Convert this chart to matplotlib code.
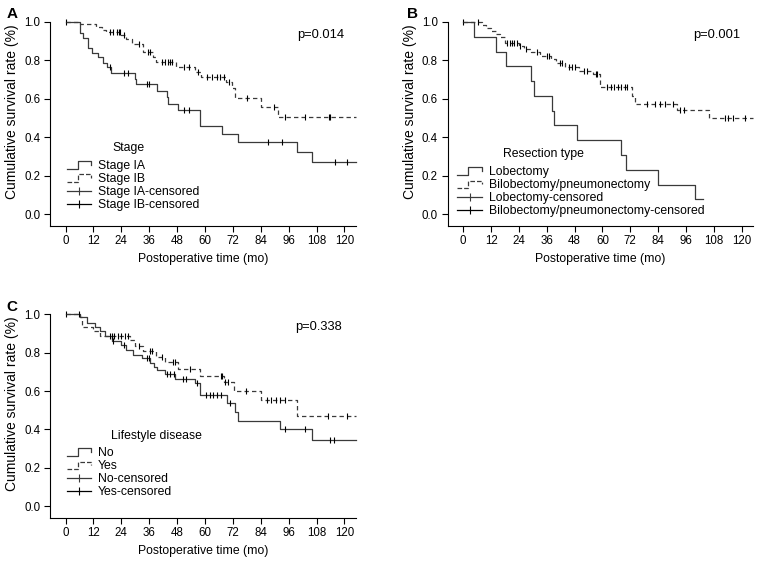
import numpy as np
import matplotlib
matplotlib.use("Agg")
import matplotlib.pyplot as plt
from matplotlib.lines import Line2D
from matplotlib.legend_handler import HandlerBase

plt.rcParams['font.family'] = ['Liberation Sans', 'DejaVu Sans']

# ---- panel A : stage ----
ia_t = [0, 6, 7.5, 9.5, 11.5, 14, 16, 18, 19.5, 30, 30.5, 39.5, 43.5, 44, 48.5, 58, 67.5, 74, 99.5, 106]
ia_s = [1.0, 0.945, 0.915, 0.867, 0.84, 0.816, 0.789, 0.768, 0.737, 0.704, 0.676, 0.643, 0.608,
        0.572, 0.542, 0.459, 0.416, 0.374, 0.322, 0.269]
ia_c = [0, 19, 25, 27, 35, 36, 51, 53, 87, 93, 116, 121]

ib_t = [0, 6, 13, 15.5, 17.5, 24, 26, 28.5, 33.5, 37.5, 39, 47.5, 55.5, 58.5, 69, 71.5, 73, 84, 91.5]
ib_s = [1.0, 0.99, 0.976, 0.958, 0.946, 0.932, 0.91, 0.884, 0.846, 0.816, 0.794, 0.768, 0.742,
        0.715, 0.69, 0.655, 0.603, 0.556, 0.508]
ib_c = [19, 20.5, 22, 23, 23.5, 25, 31.5, 35.5, 36.5, 41.5, 43, 44, 45, 46, 51, 53, 57, 61, 63,
        65, 66.5, 68, 70.5, 78, 89.5, 94.5, 103, 113.3, 114]

# ---- panel B : resection type ----
lob_t = [0, 4.6, 13.9, 18.6, 29.2, 30.7, 38.3, 39.3, 49, 68, 70, 84, 100]
lob_s = [1.0, 0.923, 0.846, 0.769, 0.692, 0.615, 0.538, 0.462, 0.385, 0.308, 0.231, 0.154, 0.077]
lob_c = [0]

bil_t = [0, 8, 10, 12, 14, 16, 18, 24, 26, 29, 33, 38, 40, 44, 50, 56, 58.8, 72.7, 74.1, 92, 106.1]
bil_s = [1.0, 0.985, 0.97, 0.955, 0.935, 0.92, 0.89, 0.876, 0.86, 0.845, 0.825, 0.805, 0.785,
         0.765, 0.745, 0.728, 0.66, 0.615, 0.574, 0.542, 0.499]
bil_c = [6.5, 19, 20, 21, 22, 23, 24.5, 27, 31.8, 36.1, 36.8, 41.9, 42.6, 45.4, 46.8, 48.3, 51.9,
         53.3, 57, 57.6, 62, 63.5, 65, 66.5, 68, 69.5, 70.5, 79, 82.5, 85, 87, 90.6, 93.5, 95,
         112.9, 114.2, 116.3, 121.4]

# ---- panel C : lifestyle disease ----
no_t = [0, 6, 9.3, 12.6, 14.8, 17, 19.8, 24, 26, 29, 32.7, 36.3, 38, 39.5, 42.7, 47, 55.6, 57.8,
        69.5, 72.8, 74.2, 92.2, 106.1]
no_s = [1.0, 0.985, 0.953, 0.936, 0.913, 0.887, 0.861, 0.84, 0.815, 0.789, 0.771, 0.745, 0.724,
        0.71, 0.69, 0.664, 0.641, 0.58, 0.537, 0.492, 0.445, 0.404, 0.343]
no_c = [0, 19, 20.5, 25, 35, 36, 43.5, 45, 46.5, 50.6, 52, 56.6, 60.6, 62, 63.5, 65, 67, 70.6,
        94.6, 103.2, 113.7, 115.4]

yes_t = [0, 6.2, 7, 12, 15, 27.7, 30, 33.4, 39.1, 42.7, 48.5, 57.8, 68.1, 72.5, 83.9, 99.4]
yes_s = [1.0, 0.985, 0.936, 0.912, 0.889, 0.865, 0.837, 0.809, 0.776, 0.749, 0.714, 0.681, 0.645,
         0.598, 0.555, 0.471]
yes_c = [5.7, 19.8, 21, 22.5, 24, 25.5, 26.7, 31.5, 36.3, 37, 41.3, 46.3, 47, 53.5, 66.8, 67.5,
         68.5, 70, 77.8, 86.5, 88.5, 90.5, 92.5, 94.3, 113, 121.3]

end_time = 125
xticks = list(range(0, 121, 12))
yticks = [0.0, 0.2, 0.4, 0.6, 0.8, 1.0]

LINE = '#3a3a3a'
DASH = (0, (3.5, 2.5))
FS = 8.8


class StepHandler(HandlerBase):
    def create_artists(self, legend, orig_handle, xdescent, ydescent, width, height, fontsize, trans):
        x0, y0 = -xdescent, -ydescent
        h = height * 0.85
        xs = [x0, x0 + 0.45 * width, x0 + 0.45 * width, x0 + width, x0 + width]
        ys = [y0, y0, y0 + h, y0 + h, y0 + 0.55 * h]
        ln = Line2D(xs, ys, color=orig_handle.get_color(), linestyle=orig_handle.get_linestyle(),
                    lw=0.9)
        ln.set_transform(trans)
        return [ln]


def km(ax, t, s, c, end, ls):
    t = np.asarray(t, float)
    s = np.asarray(s, float)
    ax.step(np.append(t, end), np.append(s, s[-1]), where='post', color=LINE, lw=0.9,
            linestyle=ls, clip_on=False)
    idx = np.searchsorted(t, c, side='right') - 1
    ax.plot(c, s[idx], linestyle='none', marker='|', color='black', markersize=5,
            markeredgewidth=0.8, clip_on=False)


def style(ax):
    ax.set_xlim(-6.7, end_time)
    ax.set_ylim(-0.06, 1.0)
    ax.spines['top'].set_visible(False)
    ax.spines['right'].set_visible(False)
    for sp in ax.spines.values():
        sp.set_linewidth(0.8)
    ax.set_xticks(xticks)
    ax.set_yticks(yticks)
    ax.set_yticklabels(['%.1f' % v for v in yticks])
    ax.tick_params(direction='out', length=4, width=0.8, labelsize=8.3, pad=3)
    ax.set_xlabel('Postoperative time (mo)', fontsize=FS, labelpad=4)
    ax.set_ylabel('Cumulative survival rate (%)', fontsize=10)
    ax.yaxis.set_label_coords(-0.1, 0.562)


def legend(ax, labels, anchor):
    h1 = Line2D([], [], color=LINE, linestyle='-')
    h2 = Line2D([], [], color=LINE, linestyle=DASH)
    h3 = Line2D([], [], color=LINE, lw=0.9, marker='|', markersize=6, markeredgewidth=0.8)
    h4 = Line2D([], [], color='black', lw=0.9, marker='|', markersize=6, markeredgewidth=0.8)
    return ax.legend([h1, h2, h3, h4], labels, loc='upper left', bbox_to_anchor=anchor,
                     bbox_transform=ax.figure.transFigure, frameon=False, fontsize=FS,
                     handlelength=2.0, handletextpad=0.57, labelspacing=0.1, borderpad=0,
                     borderaxespad=0, numpoints=1,
                     handler_map={h1: StepHandler(), h2: StepHandler()})


fig = plt.figure(figsize=(7.61, 5.64), dpi=100)
W, H = 761.0, 564.0

axA = fig.add_axes([50 / W, 1 - 225.7 / H, 306 / W, 203.7 / H])
axB = fig.add_axes([447.7 / W, 1 - 225.7 / H, 305.6 / W, 203.7 / H])
axC = fig.add_axes([50 / W, 1 - 517.7 / H, 306 / W, 203.4 / H])

km(axA, ia_t, ia_s, ia_c, end_time, '-')
km(axA, ib_t, ib_s, ib_c, end_time, DASH)
km(axB, lob_t, lob_s, lob_c, 103.5, '-')
km(axB, bil_t, bil_s, bil_c, end_time, DASH)
km(axC, no_t, no_s, no_c, end_time, '-')
km(axC, yes_t, yes_s, yes_c, end_time, DASH)

for ax in (axA, axB, axC):
    style(ax)

axA.text(99.5, 0.93, 'p=0.014', fontsize=9.3, va='center')
axB.text(99.2, 0.93, 'p=0.001', fontsize=9.3, va='center')
axC.text(99.0, 0.935, 'p=0.338', fontsize=9.3, va='center')

fig.text(112 / W, 1 - 148 / H, 'Stage', fontsize=FS, va='center')
legend(axA, ['Stage IA', 'Stage IB', 'Stage IA-censored', 'Stage IB-censored'],
       (66.7 / W, 1 - 159.5 / H))
fig.text(502.7 / W, 1 - 154.3 / H, 'Resection type', fontsize=FS, va='center')
legend(axB, ['Lobectomy', 'Bilobectomy/pneumonectomy', 'Lobectomy-censored',
             'Bilobectomy/pneumonectomy-censored'],
       (457.3 / W, 1 - 165.7 / H))
fig.text(111 / W, 1 - 435.7 / H, 'Lifestyle disease', fontsize=FS, va='center')
legend(axC, ['No', 'Yes', 'No-censored', 'Yes-censored'],
       (66.7 / W, 1 - 446.7 / H))

fig.text(12 / W, 1 - 14 / H, 'A', fontsize=11, fontweight='bold', ha='center', va='center')
fig.text(412 / W, 1 - 14 / H, 'B', fontsize=11, fontweight='bold', ha='center', va='center')
fig.text(12 / W, 1 - 307 / H, 'C', fontsize=11, fontweight='bold', ha='center', va='center')

fig.savefig('out.png', dpi=100)
